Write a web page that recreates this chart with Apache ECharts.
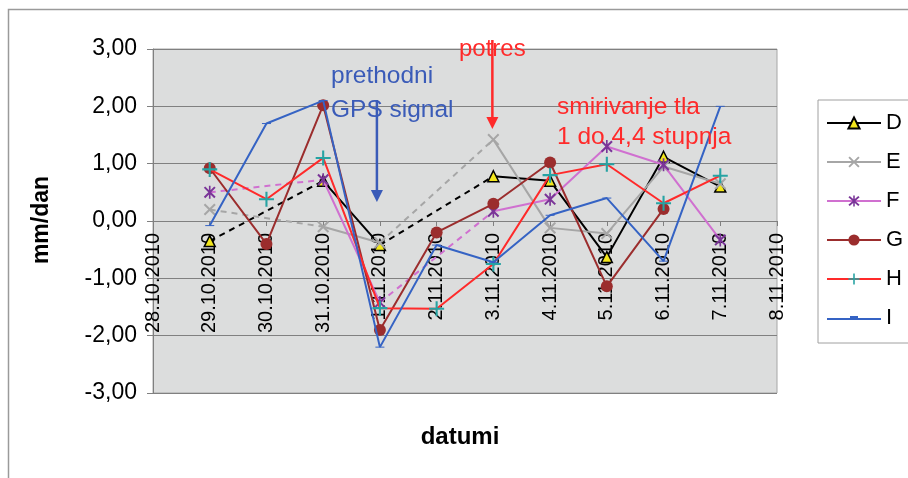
<!DOCTYPE html>
<html>
<head>
<meta charset="utf-8">
<script src="https://cdn.jsdelivr.net/npm/echarts@6/dist/echarts.min.js"></script>
<style>
html,body{margin:0;padding:0;background:#fff;}
#c{width:908px;height:478px;}
</style>
</head>
<body>
<div id="c"></div>
<script>
const categories = ['28.10.2010','29.10.2010','30.10.2010','31.10.2010','1.11.2010','2.11.2010','3.11.2010','4.11.2010','5.11.2010','6.11.2010','7.11.2010','8.11.2010'];
const D = [null, -0.35, null, 0.70, -0.42, null, 0.78, 0.70, -0.63, 1.12, 0.60, null];
const E = [null, 0.20, null, -0.10, -0.38, null, 1.42, -0.12, -0.22, 0.95, 0.65, null];
const F = [null, 0.50, null, 0.72, -1.42, null, 0.17, 0.38, 1.30, 0.98, -0.33, null];
const G = [null, 0.92, -0.40, 2.02, -1.90, -0.20, 0.30, 1.02, -1.14, 0.21, null, null];
const H = [null, 0.90, 0.38, 1.10, -1.52, -1.53, -0.75, 0.80, 0.99, 0.31, 0.79, null];
const I = [null, -0.08, 1.70, 2.10, -2.20, -0.42, -0.72, 0.10, 0.40, -0.70, 2.00, null];
const yTicks = [-3, -2, -1, 0, 1, 2, 3];

const FONT = '"Liberation Sans", Arial, sans-serif';
const X_PATH = 'path://M0,1.2 L1.2,0 L5,3.8 L8.8,0 L10,1.2 L6.2,5 L10,8.8 L8.8,10 L5,6.2 L1.2,10 L0,8.8 L3.8,5 Z';
const AST_PATH = 'path://M0,1.2 L1.2,0 L5,3.8 L8.8,0 L10,1.2 L6.2,5 L10,8.8 L8.8,10 L5,6.2 L1.2,10 L0,8.8 L3.8,5 Z M4.3,-0.5 L5.7,-0.5 L5.7,10.5 L4.3,10.5 Z';
const PLUS_PATH = 'path://M4.3,0 L5.7,0 L5.7,4.3 L10,4.3 L10,5.7 L5.7,5.7 L5.7,10 L4.3,10 L4.3,5.7 L0,5.7 L0,4.3 L4.3,4.3 Z';
const DASH_PATH = 'path://M0,0 L9,0 L9,3 L0,3 Z';
const DASH_LEGEND = 'path://M0,2 L54,2 L54,4 L0,4 Z M23,0 L31,0 L31,4 L23,4 Z';

const defs = [
  {name:'D', data:D, line:'#000000', symbol:'triangle', size:11, fill:'#f2e61c', border:'#000000', bw:1.5},
  {name:'E', data:E, line:'#a6a6a6', symbol:X_PATH, size:12, fill:'#a6a6a6', border:null, bw:0},
  {name:'F', data:F, line:'#d070d0', symbol:AST_PATH, size:13, fill:'#7a3598', border:null, bw:0},
  {name:'G', data:G, line:'#9b2d2d', symbol:'circle', size:12, fill:'#9b2d2d', border:null, bw:0},
  {name:'H', data:H, line:'#ff2a2a', symbol:PLUS_PATH, size:15, fill:'#26a3a3', border:null, bw:0},
  {name:'I', data:I, line:'#3563c4', symbol:DASH_PATH, size:[9,3], fill:'#3563c4', border:null, bw:0, legendIcon:DASH_LEGEND}
];

const series = [];
// dashed bridges over missing days (built from the series arrays)
defs.forEach(d => {
  for (let i = 1; i < d.data.length - 1; i++) {
    if (d.data[i] === null && d.data[i-1] !== null && d.data[i+1] !== null) {
      const arr = d.data.map((v, j) => (j === i-1 || j === i+1) ? v : null);
      series.push({
        name: '_gap' + d.name + i, type:'line', data: arr, connectNulls:true,
        symbol:'none', silent:true, z:1,
        lineStyle:{color:d.line, width:2, type:[6,5]}
      });
    }
  }
});
defs.forEach((d, k) => {
  series.push({
    name: d.name, type:'line', data: d.data, connectNulls:false,
    symbol: d.symbol, symbolSize: d.size, symbolKeepAspect:true, showSymbol:true, z: 2 + k,
    lineStyle:{color:d.line, width:2},
    itemStyle:{color:d.fill, borderColor: d.border || d.fill, borderWidth: d.bw},
    emphasis:{disabled:true}, animation:false
  });
});

const GRID_TOP = 49, GRID_BOTTOM = 85, H_PX = 478;
const gridHeight = H_PX - GRID_TOP - GRID_BOTTOM;
// place the category axis where value 0 falls inside the value range
const zeroFrac = (yTicks[yTicks.length-1] - 0) / (yTicks[yTicks.length-1] - yTicks[0]);
const xAxisOffset = -(gridHeight * (1 - zeroFrac));

const chart = echarts.init(document.getElementById('c'), null, {renderer:'canvas'});
chart.setOption({
  animation:false,
  backgroundColor:'#ffffff',
  grid:{left:153, right:131, top:GRID_TOP, bottom:GRID_BOTTOM, show:true, backgroundColor:'#dcdddd', borderColor:'#a6a6a6', borderWidth:1, containLabel:false, outerBoundsMode:'none'},
  xAxis:{
    type:'category', data:categories, boundaryGap:false, position:'bottom', offset:xAxisOffset,
    axisLine:{onZero:false, lineStyle:{color:'#808080', width:1}},
    axisTick:{show:true, length:5, lineStyle:{color:'#808080'}},
    axisLabel:{rotate:90, interval:0, margin:12, fontSize:20, color:'#000', fontFamily:FONT, hideOverlap:false},
    splitLine:{show:false}
  },
  yAxis:{
    type:'value', min:yTicks[0], max:yTicks[yTicks.length-1], interval:1,
    axisLine:{show:true, lineStyle:{color:'#808080'}},
    axisTick:{show:true, length:6, lineStyle:{color:'#808080'}},
    axisLabel:{margin:16, fontSize:23, color:'#000', fontFamily:FONT,
      formatter: v => v.toFixed(2).replace('.', ',')},
    splitLine:{show:true, lineStyle:{color:'#808080', width:1}}
  },
  legend:{
    data: defs.map(d => d.legendIcon ? {name:d.name, icon:d.legendIcon, itemStyle:{color:d.line}} : d.name),
    orient:'vertical', left:818, top:100,
    backgroundColor:'#ffffff', borderColor:'#a0a0a0', borderWidth:1,
    padding:[12, 40, 14, 8], itemWidth:54, itemHeight:14, itemGap:17,
    symbolKeepAspect:true,
    textStyle:{fontSize:22, color:'#000', fontFamily:FONT},
    selectedMode:false
  },
  graphic:[
    {id:'frame', type:'rect', shape:{x:8.5, y:9.5, width:1000, height:1000}, style:{fill:'none', stroke:'#9a9a9a', lineWidth:1.5}, silent:true, z:-10},
    {id:'ytitle', type:'text', x:42, y:220, rotation:Math.PI/2, style:{text:'mm/dan', font:'bold 23px ' + FONT, fill:'#000', align:'center', verticalAlign:'middle'}},
    {id:'xtitle', type:'text', x:460, y:437, style:{text:'datumi', font:'bold 24px ' + FONT, fill:'#000', align:'center', verticalAlign:'middle'}},
    {id:'t1', type:'text', x:331, y:64, style:{text:'prethodni', font:'24.5px ' + FONT, fill:'#3a5bb8', align:'left', verticalAlign:'alphabetic'}, z:100},
    {id:'t2', type:'text', x:331, y:98, style:{text:'GPS signal', font:'24.5px ' + FONT, fill:'#3a5bb8', align:'left', verticalAlign:'alphabetic'}, z:100},
    {id:'t3', type:'text', x:459, y:37, style:{text:'potres', font:'24px ' + FONT, fill:'#ff2a2a', align:'left', verticalAlign:'alphabetic'}, z:100},
    {id:'t4', type:'text', x:557, y:95, style:{text:'smirivanje tla', font:'24.5px ' + FONT, fill:'#ff2a2a', align:'left', verticalAlign:'alphabetic'}, z:100},
    {id:'t5', type:'text', x:557, y:125, style:{text:'1 do 4,4 stupnja', font:'24.5px ' + FONT, fill:'#ff2a2a', align:'left', verticalAlign:'alphabetic'}, z:100}
  ],
  series: series
});

// annotation arrows placed via the axis scales
function arrow(id, cat, yTopPx, yBotPx, color, dx) {
  const p = chart.convertToPixel({gridIndex:0}, [cat, 0]);
  const x = p[0] + dx;
  return [
    {id:id + 'l', type:'line', shape:{x1:x, y1:yTopPx, x2:x, y2:yBotPx - 8}, style:{stroke:color, lineWidth:2.5}, z:100, silent:true},
    {id:id + 'h', type:'polygon', shape:{points:[[x-6, yBotPx-12],[x+6, yBotPx-12],[x, yBotPx]]}, style:{fill:color}, z:100, silent:true}
  ];
}
const extra = [].concat(
  arrow('a1', '1.11.2010', 100, 202, '#3a5bb8', -3),
  arrow('a2', '3.11.2010', 40, 129, '#ff2a2a', -1)
);
chart.setOption({graphic: extra});
</script>
</body>
</html>
